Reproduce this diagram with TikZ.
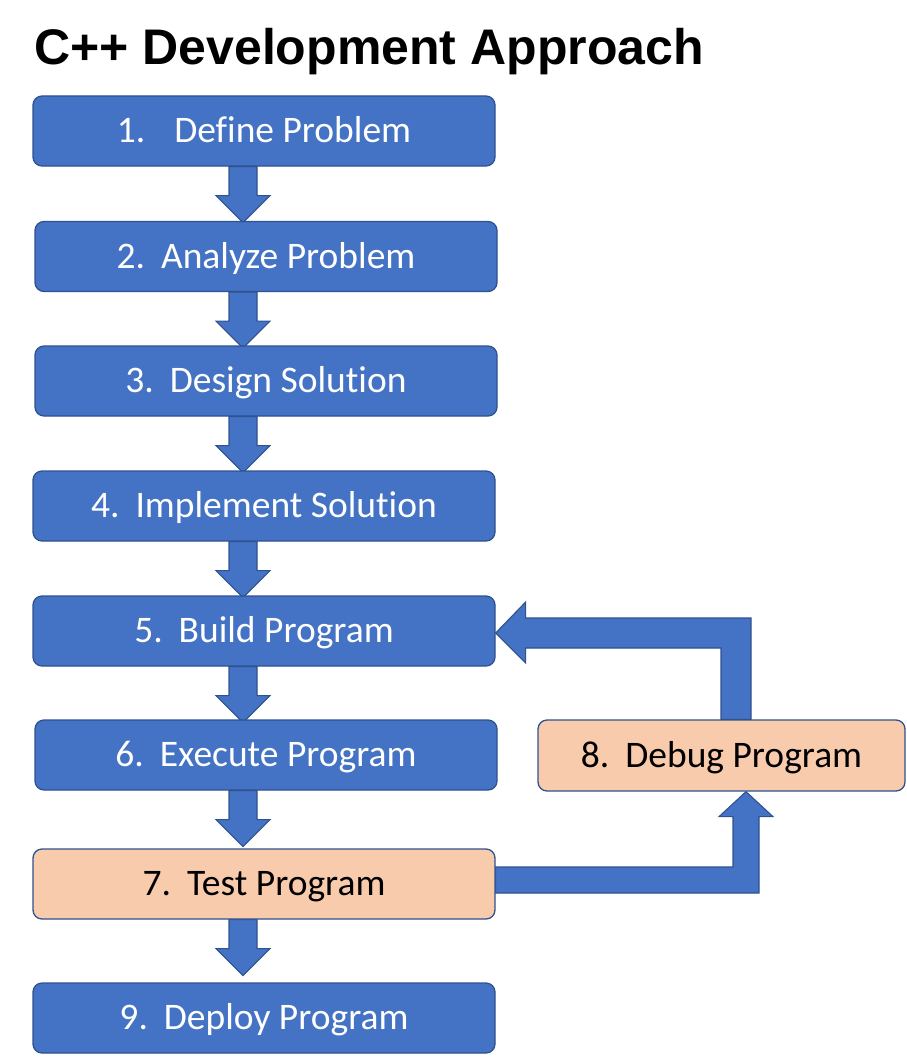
\documentclass[tikz,border=0pt]{standalone}
\usepackage{fontspec}
\setmainfont{Carlito}[Ligatures=NoCommon]
\newfontfamily\titlefont{Liberation Sans}
\usetikzlibrary{calc,backgrounds}
\definecolor{boxblue}{HTML}{4472C4}
\definecolor{edgeblue}{HTML}{2F528F}
\definecolor{peach}{HTML}{F8CBAD}
\tikzset{
 stepbox/.style={draw=edgeblue, line width=1.3pt, rounded corners=9pt, minimum height=70pt, inner sep=0pt, text height=27pt, text depth=4pt, font=\fontsize{37.5}{40}\selectfont},
 bluebox/.style={stepbox, fill=boxblue, text=white, minimum width=462pt},
 peachbox/.style={stepbox, fill=peach, text=black},
 blockarrow/.style={draw=edgeblue, line width=1.1pt, fill=boxblue, line join=miter},
}
\newcommand\downblock[2]{\draw[blockarrow] ($(#1.south -| #2)+(-14,0)$) -- ++(0,29) -- ++(-13,0) -- ++(27,27) -- ++(27,-27) -- ++(-13,0) -- ++(0,-29) -- cycle;}
\begin{document}
\begin{tikzpicture}[x=1pt,y=-1pt]
\useasboundingbox (0,0) rectangle (906,1062);
\node[anchor=base west, font=\titlefont\bfseries\fontsize{50}{56}\selectfont, inner sep=0pt] (title) at (34,65) {C++ Development Approach};
\node[bluebox] (b1) at (264,131) {1.\hspace{29pt}Define Problem};
\node[bluebox] (b2) at (266,256.5) {2.\hspace{16pt}Analyze Problem};
\node[bluebox] (b3) at (266,381) {3.\hspace{16pt}Design Solution};
\node[bluebox] (b4) at (264,506) {4.\hspace{16pt}Implement Solution};
\node[bluebox] (b5) at (264,631) {5.\hspace{16pt}Build Program};
\node[bluebox] (b6) at (266,755) {6.\hspace{16pt}Execute Program};
\node[peachbox, minimum width=462pt] (b7) at (264,884) {7.\hspace{16pt}Test Program};
\node[bluebox] (b9) at (264,1018) {9.\hspace{16pt}Deploy Program};
\node[peachbox, minimum width=367pt, minimum height=71pt] (b8) at (721.5,755.5) {8.\hspace{16pt}Debug Program};
\coordinate (ax) at (243,0);
\coordinate (mx) at (746,0);
\coordinate (lx) at (736,0);
\begin{scope}[on background layer]
\downblock{b1}{ax}
\downblock{b2}{ax}
\downblock{b3}{ax}
\downblock{b4}{ax}
\downblock{b5}{ax}
\downblock{b6}{ax}
\downblock{b7}{ax}
% test -> debug
\draw[blockarrow] ($(b7.east)+(0,-17)$) -| ($(b8.south -| mx)+(-13,25)$) -- ++(-14,0) -- (b8.south -| mx) -- ++(27,25) -- ++(-14,0) |- ($(b7.east)+(0,9)$) -- cycle;
% debug -> build
\draw[blockarrow] ($(b8.north -| lx)+(-15,0)$) |- ($(b5.east)+(30,17)$) -- ++(0,15) -- ($(b5.east)+(0,2)$) -- ++(30,-31) -- ++(0,16) -| ($(b8.north -| lx)+(15,0)$) -- cycle;
\end{scope}
\end{tikzpicture}
\end{document}
